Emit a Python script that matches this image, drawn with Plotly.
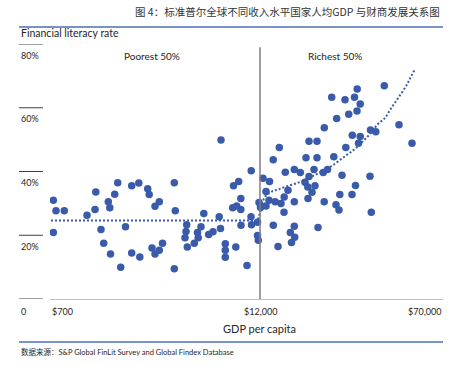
import plotly.graph_objects as go

# ---- data (x = position along GDP-per-capita rank scale, 0..393; y = financial literacy %) ----
poor_x = [3.3, 6, 14.3, 3.3, 37, 45.8, 45, 51, 53.7, 58.3, 59.8, 64.7, 67.7, 60.5, 70.7, 75.5,
          81.7, 88.8, 81.7, 89.8, 97.7, 99.2, 105, 109.3, 102, 105, 109.3, 112.5, 124.3, 125.3,
          124.3, 136.7, 136, 135, 137.3, 144.3, 147.5, 148.2, 151, 153.8, 158.7, 163, 169.2,
          170.5, 175.3, 175.3, 175.3, 183.5, 188.7, 185.8, 182.7, 186.7, 190.8, 190.8, 191, 197,
          201.2, 201, 201.5, 207.5, 207.5, 208.3, 209, 171]
poor_y = [31.0, 27.7, 27.7, 20.9, 26.3, 33.6, 28.1, 21.8, 17.5, 30.5, 28.6, 32.9, 36.5, 14.1, 10.0,
          22.7, 35.5, 36.4, 14.4, 13.2, 34.6, 32.8, 29.1, 30.5, 16.0, 14.1, 15.3, 17.5, 36.5, 27.7,
          9.5, 23.3, 21.2, 19.2, 16.3, 17.5, 20.9, 19.2, 22.7, 26.8, 20.2, 21.1, 25.8, 22.1, 17.3,
          15.3, 13.1, 35.5, 36.9, 16.3, 28.6, 29.2, 31.5, 28.1, 23.1, 10.5, 40.2, 25.8, 23.3, 24.1,
          19.9, 18.4, 30.3, 49.9]

rich_x = [210.5, 213, 216, 216, 219.5, 219, 225.2, 231, 234.2, 234, 238, 244.3, 223.3, 228, 240.3,
          244.3, 244.7, 241.5, 268, 258, 255, 259, 257.8, 265, 262, 274.2, 286, 289, 289.8, 302,
          305.5, 292, 320, 321.3, 235.3, 244.3, 250.3, 264, 273.2, 277.5, 223.2, 229.3, 256, 267,
          283.8, 259, 267, 295.8, 308.5, 302.3, 310.2, 320.5, 325.8, 274.3, 286.7, 298.7, 307,
          310.2, 281.7, 295, 304.5, 307.2, 334.3, 349, 362]
rich_y = [28.7, 37.9, 33.7, 29.2, 36.9, 31.0, 30.5, 30.0, 32.0, 27.2, 34.1, 30.5, 23.1, 16.5, 20.9,
          22.8, 19.4, 17.7, 22.4, 31.5, 36.6, 38.4, 35.1, 35.5, 33.5, 30.5, 29.6, 27.9, 32.8, 32.8,
          35.6, 38.8, 38.5, 27.2, 39.8, 40.6, 39.7, 40.6, 39.7, 40.6, 43.7, 47.5, 44.3, 44.3, 44.6,
          49.5, 49.5, 47.5, 48.9, 51.4, 51.0, 53.0, 52.5, 53.7, 56.6, 58.0, 59.0, 61.2, 63.3, 62.5,
          63.3, 65.9, 66.9, 54.7, 48.9]

poor_trend_x = [1, 207]
poor_trend_y = [24.6, 24.6]

rich_trend_x = [208, 210, 212.3, 215, 221.7, 228.3, 238.3, 248.3, 258.3, 266.7, 281, 295.5, 305,
                313.3, 320, 328, 335, 340, 345, 351.7, 356.7, 360, 364.5]
rich_trend_y = [24.9, 27.1, 30.0, 32.1, 33.7, 34.4, 35.5, 36.5, 37.9, 39.2, 41.6, 44.9, 47.1,
                49.6, 51.8, 54.9, 56.8, 59.3, 61.6, 64.7, 67.1, 69.2, 71.8]

split_x = 210
x_tick_vals = [0, 210, 393]
x_tick_text = ["$700", "$12,000", "$70,000"]
y_tick_vals = [80, 60, 40, 20, 0]
y_tick_text = ["80%", "60%", "40%", "20%", "0"]

title_text = "图 4：标准普尔全球不同收入水平国家人均GDP 与财商发展关系图"
source_text = "数据来源：S&P Global FinLit Survey and Global Findex Database"

# ---- style ----
BLUE = "#3A5AAA"
LINE_BLUE = "#4A6FB5"
TXT = "#262626"
FONT = "Lato, 'Noto Sans CJK SC', sans-serif"
W, H = 462, 365
L, T = 50, 44
R = W - 443
B = H - 299
PW, PH = W - L - R, H - T - B


def xp(px):
    return (px - L) / PW


def yp(py):
    return (H - B - py) / PH


fig = go.Figure()
fig.add_trace(go.Scatter(x=poor_trend_x, y=poor_trend_y, mode="lines",
                         line=dict(color=BLUE, width=2, dash="2px,2px"), hoverinfo="skip"))
fig.add_trace(go.Scatter(x=rich_trend_x, y=rich_trend_y, mode="lines", line_shape="spline",
                         line=dict(color=BLUE, width=2, dash="2px,2px"), hoverinfo="skip"))
fig.add_trace(go.Scatter(x=poor_x + rich_x, y=poor_y + rich_y, mode="markers",
                         marker=dict(color=BLUE, size=7.5, line=dict(width=0))))

shapes = []
shapes.append(dict(type="line", xref="x", yref="y", x0=split_x, x1=split_x, y0=0, y1=79,
                   line=dict(color="#7F7F7F", width=1.5)))
for v in y_tick_vals:
    shapes.append(dict(type="line", xref="paper", yref="y", x0=xp(19), x1=xp(43), y0=v, y1=v,
                       line=dict(color="#404040", width=1)))
shapes.append(dict(type="line", xref="paper", yref="paper", x0=xp(19), x1=xp(443),
                   y0=yp(27), y1=yp(27), line=dict(color=LINE_BLUE, width=1.5)))
shapes.append(dict(type="line", xref="paper", yref="paper", x0=xp(19), x1=xp(443),
                   y0=yp(342), y1=yp(342), line=dict(color=LINE_BLUE, width=1.5)))

ann = []
for v, t in zip(y_tick_vals, y_tick_text):
    if v == 0:
        continue
    ann.append(dict(x=xp(19), y=v, xref="paper", yref="y", text=t, showarrow=False,
                    xanchor="left", yanchor="middle", yshift=-11,
                    font=dict(family=FONT, size=9, color=TXT)))
ann.append(dict(x=xp(19), y=yp(311), xref="paper", yref="paper", text="0", showarrow=False,
                xanchor="left", yanchor="middle", font=dict(family=FONT, size=9, color=TXT)))
for v, t, anc in zip(x_tick_vals, x_tick_text, ["left", "center", "right"]):
    ann.append(dict(x=v, y=yp(311), xref="x", yref="paper", text=t, showarrow=False,
                    xanchor=anc, yanchor="middle", font=dict(family=FONT, size=9, color=TXT)))
ann.append(dict(x=xp(259), y=yp(328), xref="paper", yref="paper", text="GDP per capita",
                showarrow=False, xanchor="center", yanchor="middle",
                font=dict(family=FONT, size=11, color=TXT)))
ann.append(dict(x=xp(19), y=yp(33), xref="paper", yref="paper", text="Financial literacy rate",
                showarrow=False, xanchor="left", yanchor="middle",
                font=dict(family=FONT, size=10.5, color=TXT)))
ann.append(dict(x=xp(152), y=yp(56), xref="paper", yref="paper", text="Poorest 50%",
                showarrow=False, xanchor="center", yanchor="middle",
                font=dict(family=FONT, size=10, color=TXT)))
ann.append(dict(x=xp(335), y=yp(56), xref="paper", yref="paper", text="Richest 50%",
                showarrow=False, xanchor="center", yanchor="middle",
                font=dict(family=FONT, size=10, color=TXT)))
ann.append(dict(x=xp(442), y=yp(11), xref="paper", yref="paper", text=title_text,
                showarrow=False, xanchor="right", yanchor="middle",
                font=dict(family="'Noto Sans CJK SC', sans-serif", size=10.5, color="#333333")))
ann.append(dict(x=xp(19), y=yp(352), xref="paper", yref="paper", text=source_text,
                showarrow=False, xanchor="left", yanchor="middle",
                font=dict(family=FONT, size=7.5, color=TXT)))

fig.update_layout(
    width=W, height=H, autosize=False,
    margin=dict(l=L, r=R, t=T, b=B, pad=0),
    paper_bgcolor="white", plot_bgcolor="white",
    showlegend=False,
    xaxis=dict(range=[0, 393], showgrid=False, zeroline=False, showticklabels=False,
               ticks="", showline=True, linecolor="#BFBFBF", linewidth=1, fixedrange=True),
    yaxis=dict(range=[0, 80], showgrid=False, zeroline=False, showticklabels=False,
               ticks="", showline=False, fixedrange=True),
    shapes=shapes, annotations=ann,
)

fig.write_html("out.html", post_script="document.body.style.margin='0';",
               config={"displayModeBar": False})
